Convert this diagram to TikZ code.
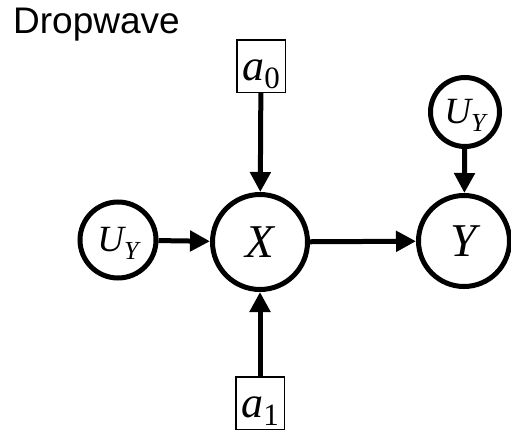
\documentclass[tikz,border=0pt]{standalone}
\usepackage{fontspec}
\newfontfamily\titlefont{Liberation Sans}
\newfontfamily\serifit{Liberation Serif}
\usetikzlibrary{arrows.meta}
\newcommand\bigvar[1]{{\serifit\itshape\fontsize{47}{47}\selectfont #1}}
\newcommand\noisevar[2]{{\serifit\itshape\fontsize{37}{37}\selectfont #1\raisebox{-8pt}[0pt][0pt]{\fontsize{26}{26}\selectfont #2}}}
\newcommand\actvar[2]{{\serifit\itshape\fontsize{44}{44}\selectfont #1\raisebox{-8pt}[0pt][0pt]{\upshape\fontsize{31}{31}\selectfont #2}}}
\tikzset{
  var/.style={circle, draw=black, line width=5pt, inner sep=0pt},
  act/.style={rectangle, draw=black, line width=1.5pt, inner sep=0pt,
              minimum width=48.5pt, text height=41pt, text depth=11.5pt},
  edge/.style={line width=5pt, -{Triangle[length=20pt,width=20pt]}},
}
\begin{document}
\begin{tikzpicture}[x=1pt,y=-1pt]
\useasboundingbox (0,0) rectangle (511,431);
\node[anchor=base west, inner sep=0pt] (title) at (13,33) {\titlefont\fontsize{37}{37}\selectfont Dropwave};
\node[var, minimum size=95pt] (x) at (260,242) {\bigvar{X}};
\node[var, minimum size=76pt] (u1) at (118,240) {\noisevar{U}{Y}};
\node[var, minimum size=91pt] (y) at (464,241) {\bigvar{Y}};
\node[var, minimum size=69pt] (u2) at (465,112) {\noisevar{U}{Y}};
\node[act] (a0) at (261,66) {\actvar{a}{0}};
\node[act] (a1) at (260,403) {\actvar{a}{1}};
\draw[edge] (u1) -- (x);
\draw[edge] (x) -- (y);
\draw[edge] (a0) -- (x);
\draw[edge] (a1) -- (x);
\draw[edge] (u2) -- (y);
\end{tikzpicture}
\end{document}
